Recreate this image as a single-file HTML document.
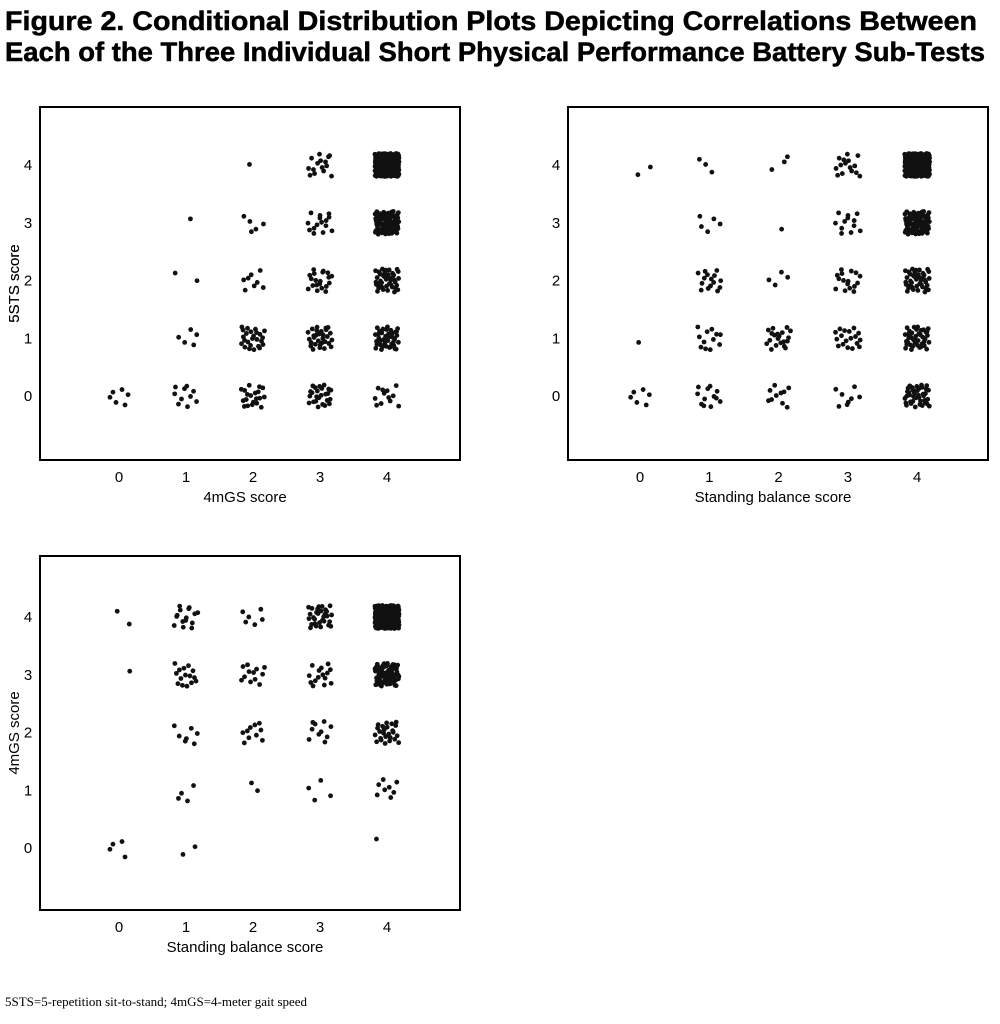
<!DOCTYPE html>
<html><head><meta charset="utf-8"><style>
body{margin:0;background:#fff;}
svg{display:block;font-family:"Liberation Sans",sans-serif;}
</style></head><body>
<svg id="fig" width="1000" height="1024" viewBox="0 0 1000 1024">
<text x="5" y="30" font-size="27" font-weight="bold" stroke="#000" stroke-width="0.5" textLength="972" lengthAdjust="spacingAndGlyphs">Figure 2. Conditional Distribution Plots Depicting Correlations Between</text>
<text x="5" y="61" font-size="27" font-weight="bold" stroke="#000" stroke-width="0.5" textLength="980" lengthAdjust="spacingAndGlyphs">Each of the Three Individual Short Physical Performance Battery Sub-Tests</text>
<text x="5" y="1006" font-size="13" font-family="Liberation Serif, serif">5STS=5-repetition sit-to-stand; 4mGS=4-meter gait speed</text>
</svg>
<script>
// counts per cell: rows = y value 0..4, columns = x value 0..4
const panel1Counts = [[6,10,20,25,12],[0,5,25,30,40],[0,2,8,20,40],[0,1,5,15,80],[0,0,1,15,300]];
const panel2Counts = [[6,12,10,8,40],[1,12,20,18,40],[0,15,4,16,40],[0,5,1,12,80],[2,3,3,15,300]];
const panel3Counts = [[4,2,0,0,1],[0,4,2,4,8],[0,7,10,10,25],[1,15,12,15,60],[2,15,6,30,300]];
const xTickLabels = ["0","1","2","3","4"];
const yTickLabels = ["0","1","2","3","4"];

const NS="http://www.w3.org/2000/svg";
const svg=document.getElementById('fig');
function mk(tag,attrs,parent){const e=document.createElementNS(NS,tag);for(const k in attrs)e.setAttribute(k,attrs[k]);(parent||svg).appendChild(e);return e;}
function halton(i,b){let f=1,r=0;while(i>0){f/=b;r+=f*(i%b);i=Math.floor(i/b);}return r;}

const panels=[
 {counts:panel1Counts,left:40,top:107,w:420,h:353,x0:119,dx:67,y0:396,dy:57.75,xt:"4mGS score",yt:"5STS score",name:"panel-5sts-vs-4mgs"},
 {counts:panel2Counts,left:568,top:107,w:420,h:353,x0:640,dx:69.3,y0:396,dy:57.75,xt:"Standing balance score",yt:"5STS score",name:"panel-5sts-vs-balance"},
 {counts:panel3Counts,left:40,top:556,w:420,h:354,x0:119,dx:67,y0:848,dy:57.75,xt:"Standing balance score",yt:"4mGS score",name:"panel-4mgs-vs-balance"}
];
panels.forEach(p=>{
 const g=mk('g',{});
 
 
 const fr=mk('rect',{x:p.left,y:p.top,width:p.w,height:p.h,fill:'none',stroke:'#000','stroke-width':2},g);
 
 
 const X=v=>p.x0+p.dx*v, Y=v=>p.y0-p.dy*v;
 xTickLabels.forEach((t,i)=>{
  const tx=mk('text',{x:X(i),y:p.top+p.h+22,'font-size':15,'text-anchor':'middle'},g);tx.textContent=t;
  
  
 });
 yTickLabels.forEach((t,i)=>{
  const tx=mk('text',{x:p.left-12,y:Y(i)+5,'font-size':15,'text-anchor':'middle'},g);tx.textContent=t;
  
  
 });
 const xt=mk('text',{x:p.left+p.w/2-5,y:p.top+p.h+42,'font-size':15,'text-anchor':'middle'},g);xt.textContent=p.xt;
 
 
 const cy=p.top+p.h/2;
 const yt=mk('text',{x:0,y:0,'font-size':15,'text-anchor':'middle',transform:`translate(19,${cy}) rotate(-90)`},g);yt.textContent=p.yt;
 
 
 let seed=1;
 p.counts.forEach((row,yv)=>row.forEach((n,xv)=>{
  for(let k=0;k<n;k++){
   seed++;
   const jx=(halton(seed,2)-0.5)*0.36, jy=(halton(seed,3)-0.5)*0.40;
   const c=mk('circle',{cx:X(xv+jx),cy:Y(yv+jy),r:2.4,fill:'#111'},g);
   
   
  }
 }));
});
</script>
</body></html>
